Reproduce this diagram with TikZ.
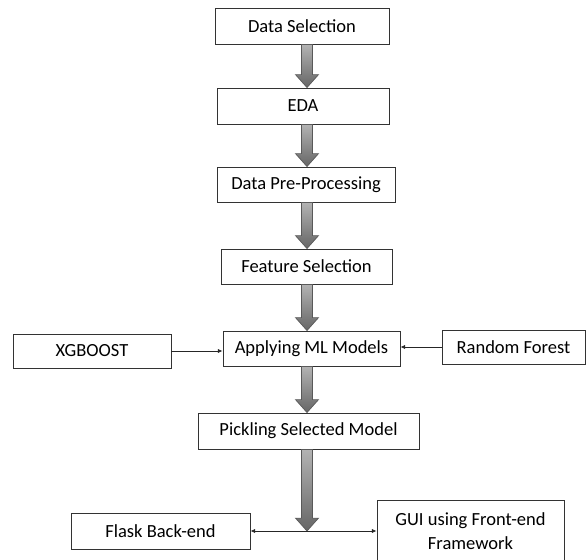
\documentclass[tikz,border=0pt]{standalone}
\usepackage{fontspec}
\setmainfont{Carlito}
\usetikzlibrary{calc,arrows.meta}

% thick grey block arrow from #1 down to #2
\newcommand{\fatarrow}[2]{%
  \path[fat] let \p1=(#1), \p2=(#2) in
    (\x1-4.7pt,\y1) -- (\x1+4.7pt,\y1) -- (\x1+4.7pt,\y2+11pt) -- (\x1+9.8pt,\y2+11pt)
    -- (\x1,\y2) -- (\x1-9.8pt,\y2+11pt) -- (\x1-4.7pt,\y2+11pt) -- cycle;}

\begin{document}
\begin{tikzpicture}[x=0.03cm,y=-0.03cm,
  box/.style={draw=black!80,line width=0.8pt,inner sep=0pt,align=center,
    font=\fontsize{15.8}{20}\selectfont},
  fat/.style={draw=black!65,line width=0.6pt,top color=black!30,bottom color=black!60},
  link/.style={draw=black!85,line width=0.5pt}]
  \useasboundingbox (0,0) rectangle (587,559);
  \coordinate (col) at (307,0);
  % main column
  \node (ds) at (302,26) [box,minimum width=5.22cm,minimum height=1.08cm] {Data Selection};
  \node (eda) at (303,106) [box,minimum width=5.16cm,minimum height=1.08cm] {EDA};
  \node (pre) at (306,184.5) [box,minimum width=5.34cm,minimum height=1.05cm] {Data Pre-Processing};
  \node (fs) at (306.5,266.5) [box,minimum width=5.13cm,minimum height=1.05cm] {Feature Selection};
  \node (ml) at (311.5,348.5) [box,minimum width=5.31cm,minimum height=1.05cm] {Applying ML Models};
  \node (pick) at (308.5,431) [box,minimum width=6.63cm,minimum height=1.08cm] {Pickling Selected Model};
  % side models
  \node (xgb) at (92,351) [box,minimum width=4.74cm,minimum height=1.02cm] {XGBOOST};
  \node (rf) at (513.5,347) [box,minimum width=4.29cm,minimum height=1.02cm] {Random Forest};
  % deployment
  \node (flask) at (160.5,531) [box,minimum width=5.37cm,minimum height=1.08cm] {Flask Back-end};
  \node (gui) at (470.5,531) [box,minimum width=5.61cm,minimum height=1.86cm] {GUI using Front-end\\Framework};
  \coordinate (hub) at (flask.east -| col);

  \fatarrow{ds.south -| col}{eda.north -| col}
  \fatarrow{eda.south -| col}{pre.north -| col}
  \fatarrow{pre.south -| col}{fs.north -| col}
  \fatarrow{fs.south -| col}{ml.north -| col}
  \fatarrow{ml.south -| col}{pick.north -| col}
  \fatarrow{pick.south -| col}{hub}

  \draw[link,-{Latex[length=4pt,width=3.5pt]}] (xgb.east) -- (xgb.east -| ml.west);
  \draw[link,-{Latex[length=4pt,width=3.5pt]}] (rf.west) -- (rf.west -| ml.east);
  \draw[link,{Latex[length=4pt,width=3.5pt]}-{Latex[length=4pt,width=3.5pt]}] (flask.east) -- (flask.east -| gui.west);
\end{tikzpicture}
\end{document}
